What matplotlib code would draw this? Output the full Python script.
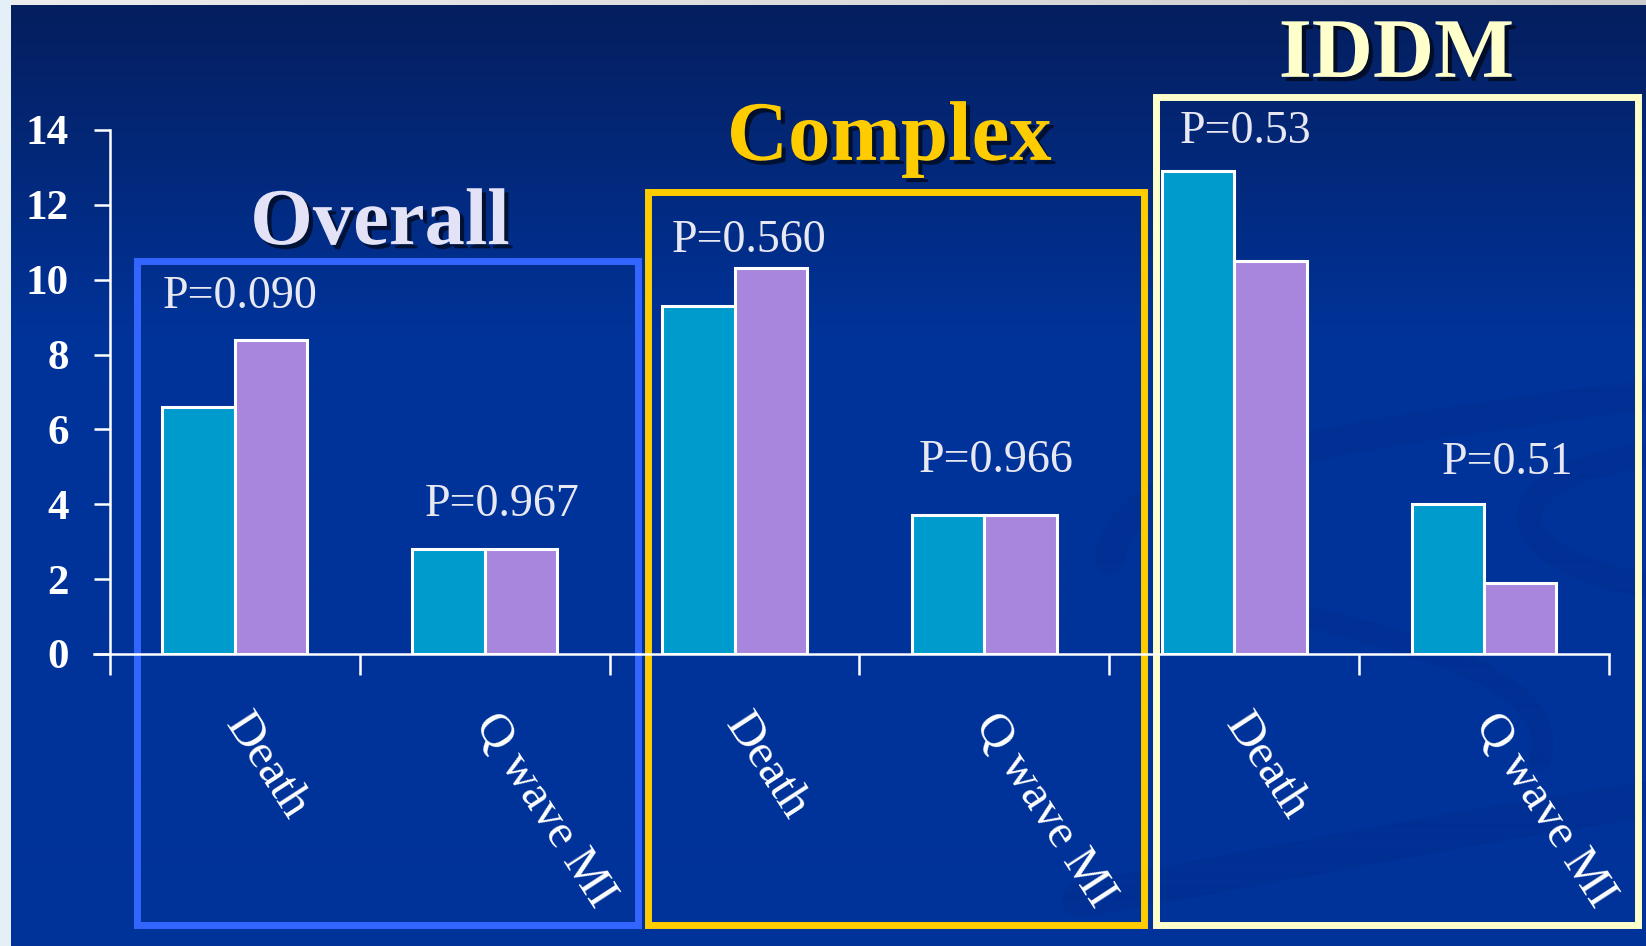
import numpy as np
import matplotlib
matplotlib.use("Agg")
import matplotlib.pyplot as plt
from matplotlib import patheffects as pe
from matplotlib.patches import Rectangle, PathPatch
from matplotlib.path import Path

# ---- chart data ----
categories = ["Death", "Q wave MI", "Death", "Q wave MI", "Death", "Q wave MI"]
group_titles = ["Overall", "Complex", "IDDM"]
series_a = [6.6, 2.8, 9.3, 3.7, 12.9, 4.0]     # teal bars
series_b = [8.4, 2.8, 10.3, 3.7, 10.5, 1.9]    # purple bars
p_labels = ["P=0.090", "P=0.967", "P=0.560", "P=0.966", "P=0.53", "P=0.51"]
y_ticks = [0, 2, 4, 6, 8, 10, 12, 14]

# ---- styling / layout ----
TEAL = "#009BCD"
PURPLE = "#A886DE"
WHITE = "white"
SERIF = ["Liberation Serif", "DejaVu Serif"]
group_colors = ["#3366FF", "#FFCC00", "#FFFFCC"]
title_colors = ["#E4E2F6", "#FFCC00", "#FFFFCC"]
# box extents in data units: (x0, x1, y0, y1)
box_extents = [(-0.392, 1.614, -7.24, 10.5),
               (1.654, 3.639, -7.24, 12.34),
               (3.687, 5.617, -7.24, 14.88)]
title_pos = [(0.58, 10.95, 58), (2.62, 13.2, 61), (4.65, 15.42, 61)]
p_pos = [(-0.288, 9.54), (0.761, 3.98), (1.75, 11.03),
         (2.739, 5.16), (3.783, 13.95), (4.832, 5.10)]

W, H = 1646, 946
fig = plt.figure(figsize=(W / 100, H / 100), dpi=100)

# slide background: dark navy gradient with light window margins
bg = fig.add_axes([0, 0, 1, 1])
bg.set_axis_off()
top = np.array([0.02, 0.12, 0.37])
mid = np.array([0.0, 0.20, 0.60])
t = np.clip((np.arange(H) - 6) / 330.0, 0, 1)[:, None]
img = (top[None, :] * (1 - t) + mid[None, :] * t)[:, None, :] * np.ones((1, W, 1))
img[:6, :, :] = np.linspace(0.93, 0.80, W)[None, :, None] * np.ones(3)
img[:, :11, :] = np.array([0.90, 0.94, 0.97])
bg.imshow(img.clip(0, 1), extent=[0, W, H, 0], aspect="auto")
bg.set_xlim(0, W)
bg.set_ylim(H, 0)

# faint decorative swirl in the lower right of the slide
swirl_style = dict(facecolor="none", edgecolor="#002580", alpha=0.16, capstyle="round")
swirls = [
    ([(1110, 560), (1120, 470), (1300, 440), (1646, 395)], 22),
    ([(1646, 455), (1480, 480), (1500, 560), (1646, 585)], 18),
    ([(1300, 615), (1450, 650), (1560, 690), (1540, 760)], 16),
    ([(1080, 900), (1300, 860), (1500, 820), (1646, 800)], 26),
]
for pts, lw in swirls:
    path = Path(pts, [Path.MOVETO, Path.CURVE4, Path.CURVE4, Path.CURVE4])
    bg.add_patch(PathPatch(path, linewidth=lw, **swirl_style))

ax = fig.add_axes([0.0668, 0.3087, 0.9107, 0.5539])
ax.set_facecolor("none")
x = np.arange(len(categories))
bw = 0.29
ax.bar(x - bw / 2, series_a, width=bw, color=TEAL, edgecolor=WHITE, linewidth=2.2, zorder=3)
ax.bar(x + bw / 2, series_b, width=bw, color=PURPLE, edgecolor=WHITE, linewidth=2.2, zorder=3)

ax.set_xlim(-0.5, len(categories) - 0.5)
ax.set_ylim(0, 14)
for s in ["top", "right"]:
    ax.spines[s].set_visible(False)
for s in ["left", "bottom"]:
    ax.spines[s].set_color(WHITE)
    ax.spines[s].set_linewidth(1.8)
    ax.spines[s].set_zorder(4)
# x axis line continues a little left of the value axis
ax.plot([-0.0107, 0], [0, 0], transform=ax.transAxes, color=WHITE, lw=1.8, clip_on=False, zorder=4)

ax.set_yticks(y_ticks)
ax.set_yticklabels([str(v) for v in y_ticks], fontfamily=SERIF, fontweight="bold", fontsize=31, color=WHITE)
ax.tick_params(axis="y", direction="out", length=11.5, width=1.8, colors=WHITE, pad=18)

ax.set_xticks(x)
ax.set_xticklabels(categories, fontfamily=SERIF, fontsize=35, color=WHITE,
                   rotation=-57, ha="left", va="center", rotation_mode="anchor")
ax.set_xticks(np.arange(-0.5, len(categories)), minor=True)
ax.tick_params(axis="x", which="major", length=0, pad=46)
ax.tick_params(axis="x", which="minor", direction="out", length=15, width=1.8, colors=WHITE)

# group frames
for (x0, x1, y0, y1), c in zip(box_extents, group_colors):
    ax.add_patch(Rectangle((x0, y0), x1 - x0, y1 - y0, fill=False, edgecolor=c,
                           linewidth=5, clip_on=False, zorder=2))

# group titles
shadow = [pe.withSimplePatchShadow(offset=(3, -3), shadow_rgbFace="black", alpha=0.6)]
for title, c, (tx, ty, fs) in zip(group_titles, title_colors, title_pos):
    ax.text(tx, ty, title, ha="center", va="baseline", fontsize=fs, fontweight="bold",
            fontfamily=SERIF, color=c, clip_on=False, path_effects=shadow, zorder=5)

# p-value annotations
for lab, (px, py) in zip(p_labels, p_pos):
    ax.text(px, py, lab, ha="left", va="center", fontsize=33, fontfamily=SERIF,
            color="#E8E8F2", clip_on=False, zorder=5)

fig.savefig("out.png", dpi=100)
